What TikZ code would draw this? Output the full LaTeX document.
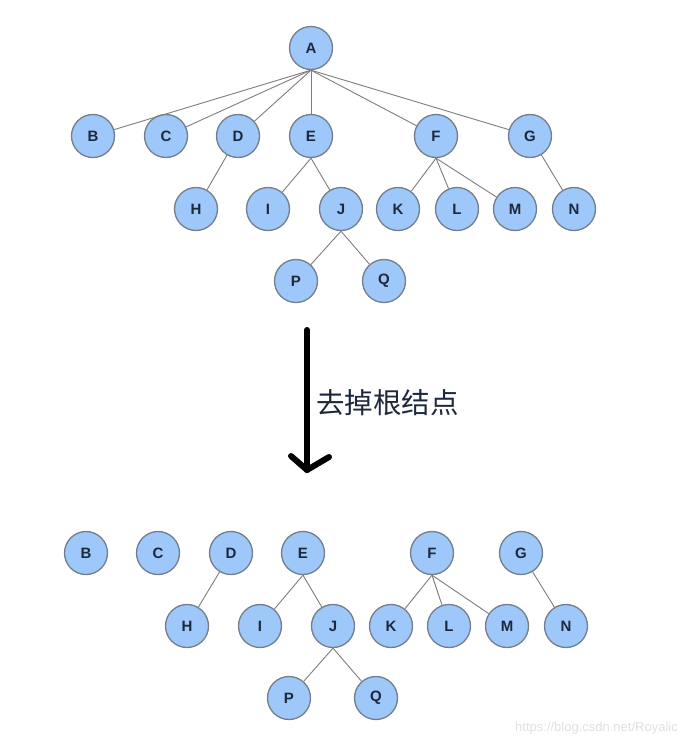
\documentclass[tikz,border=0pt]{standalone}
\usepackage{fontspec}
\setmainfont{Liberation Sans}
\newfontfamily\cjk{Noto Sans CJK SC}
\definecolor{nodefill}{RGB}{158,200,250}
\definecolor{nodeline}{RGB}{115,125,140}
\definecolor{edgecol}{RGB}{125,125,125}
\definecolor{labcol}{RGB}{30,40,60}
\begin{document}
\begin{tikzpicture}[x=1pt,y=-1pt,
  tn/.style={circle,draw=nodeline,line width=1.3pt,fill=nodefill,minimum size=43pt,inner sep=0pt,
    font=\fontsize{15}{15}\selectfont\bfseries,text=labcol},
  edge/.style={draw=edgecol,line width=0.9pt}]
\useasboundingbox (0,0) rectangle (689,748);
% top tree
\foreach \n/\x/\y in {A/311/48,B/93/136,C/166/136,D/238/136,E/311/136,F/436/136,G/530/136,
  H/196/209,I/268/209,J/341/209,K/398/209,L/457/209,M/515/209,N/574/209,P/296/281,Q/384/281}
  \node[tn] (t\n) at (\x,\y) {\n};
\foreach \c in {B,C,D,E,F,G} \draw[edge] (tA.south) -- (t\c);
\draw[edge] (tD) -- (tH);
\draw[edge] (tE.south) -- (tI);
\draw[edge] (tE.south) -- (tJ);
\draw[edge] (tJ.south) -- (tP);
\draw[edge] (tJ.south) -- (tQ);
\foreach \c in {K,L,M} \draw[edge] (tF.south) -- (t\c);
\draw[edge] (tG) -- (tN);
% arrow
\coordinate (atop) at (307,330);
\coordinate (atip) at (307,470);
\coordinate (aleft) at (291,456);
\coordinate (aright) at (329,457);
\draw[line width=6pt,line cap=round,line join=round] (atop) -- (atip);
\draw[line width=6pt,line cap=round,line join=round] (aleft) -- (atip) -- (aright);
\node[anchor=west,font=\cjk\fontsize{28.5}{28.5}\selectfont,text=labcol,inner sep=0pt] (lab) at (316,403) {去掉根结点};
% bottom forest
\foreach \n/\x/\y in {B/86/553,C/158/553,D/231/553,E/303/553,F/432/553,G/521/553,
  H/187/626,I/260/626,J/333/626,K/391/626,L/449/626,M/507/626,N/566/626,P/289/698,Q/376/698}
  \node[tn] (b\n) at (\x,\y) {\n};
\draw[edge] (bD) -- (bH);
\draw[edge] (bE.south) -- (bI);
\draw[edge] (bE.south) -- (bJ);
\draw[edge] (bJ.south) -- (bP);
\draw[edge] (bJ.south) -- (bQ);
\foreach \c in {K,L,M} \draw[edge] (bF.south) -- (b\c);
\draw[edge] (bG) -- (bN);
\node[anchor=east,font=\fontsize{13}{13}\selectfont,text=black!12,inner sep=0pt] (wm) at (678,728) {https://blog.csdn.net/Royalic};
\end{tikzpicture}
\end{document}
